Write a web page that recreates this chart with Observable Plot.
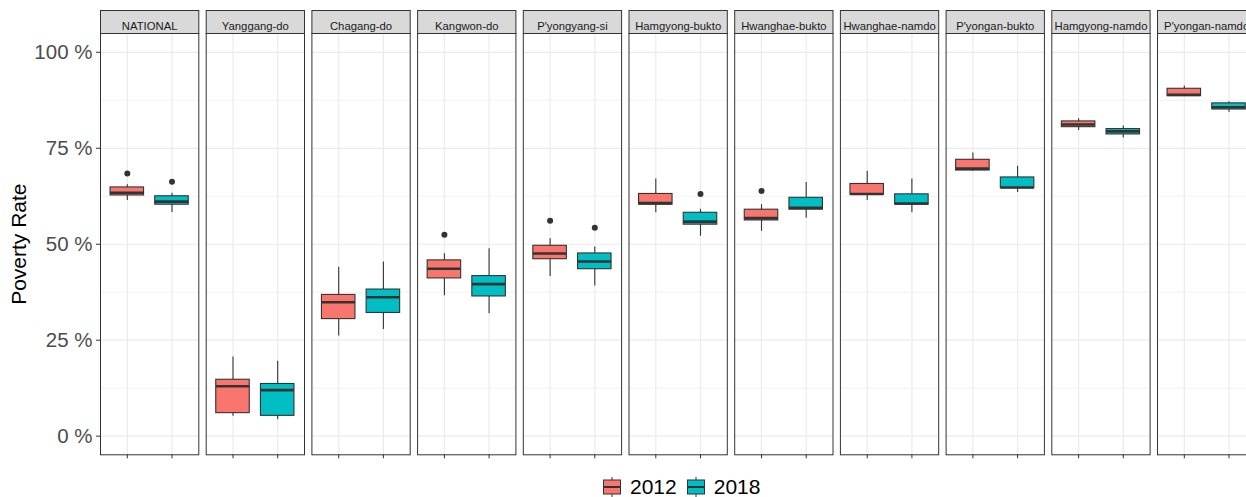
<!DOCTYPE html>
<html>
<head>
<meta charset="utf-8">
<script src="https://cdn.jsdelivr.net/npm/d3@7"></script>
<script src="https://cdn.jsdelivr.net/npm/@observablehq/plot@0.6"></script>
<style>
  html, body { margin: 0; padding: 0; background: white; overflow: hidden; width: 1246px; height: 497px; }
  #chart { position: absolute; left: 0; top: 0; width: 1300px; }
  #chart svg { max-width: none !important; }
  g[aria-label="y-axis label"] text { fill: #000; font-size: 21px; }
  #legend { position: absolute; left: 603px; top: 476px; display: flex; align-items: center;
            font-family: "Liberation Sans", Arial, sans-serif; font-size: 21px; color: #000; line-height: 22px; }
  #legend .item { display: flex; align-items: center; margin-right: 10px; }
  #legend svg { margin-right: 9px; }
</style>
</head>
<body>
<div id="chart"></div>
<div id="legend"></div>
<script>
const regions = ["NATIONAL", "Yanggang-do", "Chagang-do", "Kangwon-do", "P'yongyang-si", "Hamgyong-bukto",
  "Hwanghae-bukto", "Hwanghae-namdo", "P'yongan-bukto", "Hamgyong-namdo", "P'yongan-namdo"];
const years = ["2012", "2018"];
const colors = ["#F8766D", "#00BFC4"];
const yTicks = [0, 25, 50, 75, 100];
const yMinor = [12.5, 37.5, 62.5, 87.5];

// 2012 box statistics (percent)
const lo2012  = [61.4,  5.2, 26.1, 36.6, 41.6, 58.2, 53.4, 61.4, 69.0, 79.6, 88.6];
const q1_2012 = [62.7,  6.0, 30.5, 41.1, 46.1, 60.3, 56.2, 62.9, 69.2, 80.5, 88.6];
const med2012 = [63.4, 13.0, 34.9, 43.6, 47.6, 60.7, 56.8, 63.1, 69.7, 81.2, 88.9];
const q3_2012 = [64.8, 14.7, 36.8, 45.8, 49.6, 63.1, 59.0, 65.7, 72.0, 82.0, 90.5];
const hi2012  = [65.5, 20.6, 44.0, 47.5, 51.4, 67.0, 60.3, 69.0, 73.8, 82.7, 91.2];
const out2012 = [68.4, null, null, 52.5, 56.1, null, 63.9, null, null, null, null];

// 2018 box statistics (percent)
const lo2018  = [58.3,  4.3, 27.8, 31.9, 39.1, 52.1, 56.8, 58.2, 63.5, 77.7, 84.4];
const q1_2018 = [60.3,  5.3, 32.1, 36.4, 43.5, 55.1, 59.0, 60.3, 64.6, 78.6, 85.1];
const med2018 = [61.1, 12.0, 36.2, 39.6, 45.5, 55.9, 59.5, 60.6, 64.8, 79.4, 85.7];
const q3_2018 = [62.5, 13.6, 38.2, 41.7, 47.6, 58.2, 62.1, 63.0, 67.4, 80.0, 86.7];
const hi2018  = [63.3, 19.5, 45.4, 48.8, 49.3, 59.1, 66.1, 67.0, 70.3, 80.8, 87.1];
const out2018 = [66.3, null, null, null, 54.3, 63.1, null, null, null, null, null];

const stats = {
  "2012": {lo: lo2012, q1: q1_2012, med: med2012, q3: q3_2012, hi: hi2012, out: out2012},
  "2018": {lo: lo2018, q1: q1_2018, med: med2018, q3: q3_2018, hi: hi2018, out: out2018}
};

const table = [];
const outliers = [];
for (const year of years) {
  const s = stats[year];
  regions.forEach((region, i) => {
    table.push({region, year, lo: s.lo[i], q1: s.q1[i], med: s.med[i], q3: s.q3[i], hi: s.hi[i]});
    if (s.out[i] != null) outliers.push({region, year, value: s.out[i]});
  });
}

const H = 465, MT = 33, MB = 10.7;
const innerH = H - MT - MB;

const chart = Plot.plot({
  width: 1259,
  height: H,
  marginLeft: 100,
  marginRight: 3.7,
  marginTop: MT,
  marginBottom: MB,
  style: {fontFamily: "'Liberation Sans', Arial, sans-serif", background: "white", overflow: "visible", maxWidth: "none"},
  fx: {domain: regions, paddingInner: 0.07, paddingOuter: 0, round: false, axis: null, label: null},
  x: {domain: years, paddingInner: 0.25, paddingOuter: 0.225, round: false, label: null},
  y: {domain: [-4.85, 104.9], label: null},
  color: {domain: years, range: colors},
  marks: [
    Plot.ruleY(yMinor, {stroke: "#F2F2F2", strokeWidth: 1}),
    Plot.ruleY(yTicks, {stroke: "#EBEBEB", strokeWidth: 1.2}),
    Plot.ruleX(years, {x: d => d, stroke: "#EBEBEB", strokeWidth: 1.2}),
    Plot.frame({fill: "#D9D9D9", stroke: "#333333", strokeWidth: 1, insetTop: -23, insetBottom: innerH}),
    Plot.text(regions, {fx: d => d, text: d => d, frameAnchor: "top", dy: -11.5, fontSize: 11.3, fill: "#1A1A1A"}),
    Plot.ruleX(table, {fx: "region", x: "year", y1: "lo", y2: "hi", stroke: "#333333", strokeWidth: 1.1}),
    Plot.barY(table, {fx: "region", x: "year", y1: "q1", y2: "q3", fill: "year", stroke: "#333333", strokeWidth: 1.1}),
    Plot.tickY(table, {fx: "region", x: "year", y: "med", stroke: "#333333", strokeWidth: 2.6}),
    Plot.dot(outliers, {fx: "region", x: "year", y: "value", r: 3, fill: "#333333", stroke: "none"}),
    Plot.frame({stroke: "#333333", strokeWidth: 1}),
    Plot.axisY({ticks: yTicks, tickFormat: d => `${d} %`, fontSize: 20.5, tickSize: 4, tickPadding: 4,
      stroke: "#333333", fill: "#4D4D4D", label: "Poverty Rate", labelAnchor: "center", labelArrow: "none", labelOffset: 89}),
    Plot.axisX({tickSize: 4, tickFormat: () => "", stroke: "#333333", label: null})
  ]
});
document.getElementById("chart").appendChild(chart);

// legend
const legend = document.getElementById("legend");
years.forEach((year, i) => {
  const item = document.createElement("div");
  item.className = "item";
  item.innerHTML = `<svg width="18" height="20" viewBox="0 0 18 20">
    <line x1="9" x2="9" y1="0" y2="20" stroke="#333" stroke-width="1"/>
    <rect x="0.5" y="3" width="17" height="14" fill="${colors[i]}" stroke="#333" stroke-width="1"/>
    <line x1="0.5" x2="17.5" y1="10" y2="10" stroke="#333" stroke-width="2"/>
  </svg><span>${year}</span>`;
  legend.appendChild(item);
});
</script>
</body>
</html>
